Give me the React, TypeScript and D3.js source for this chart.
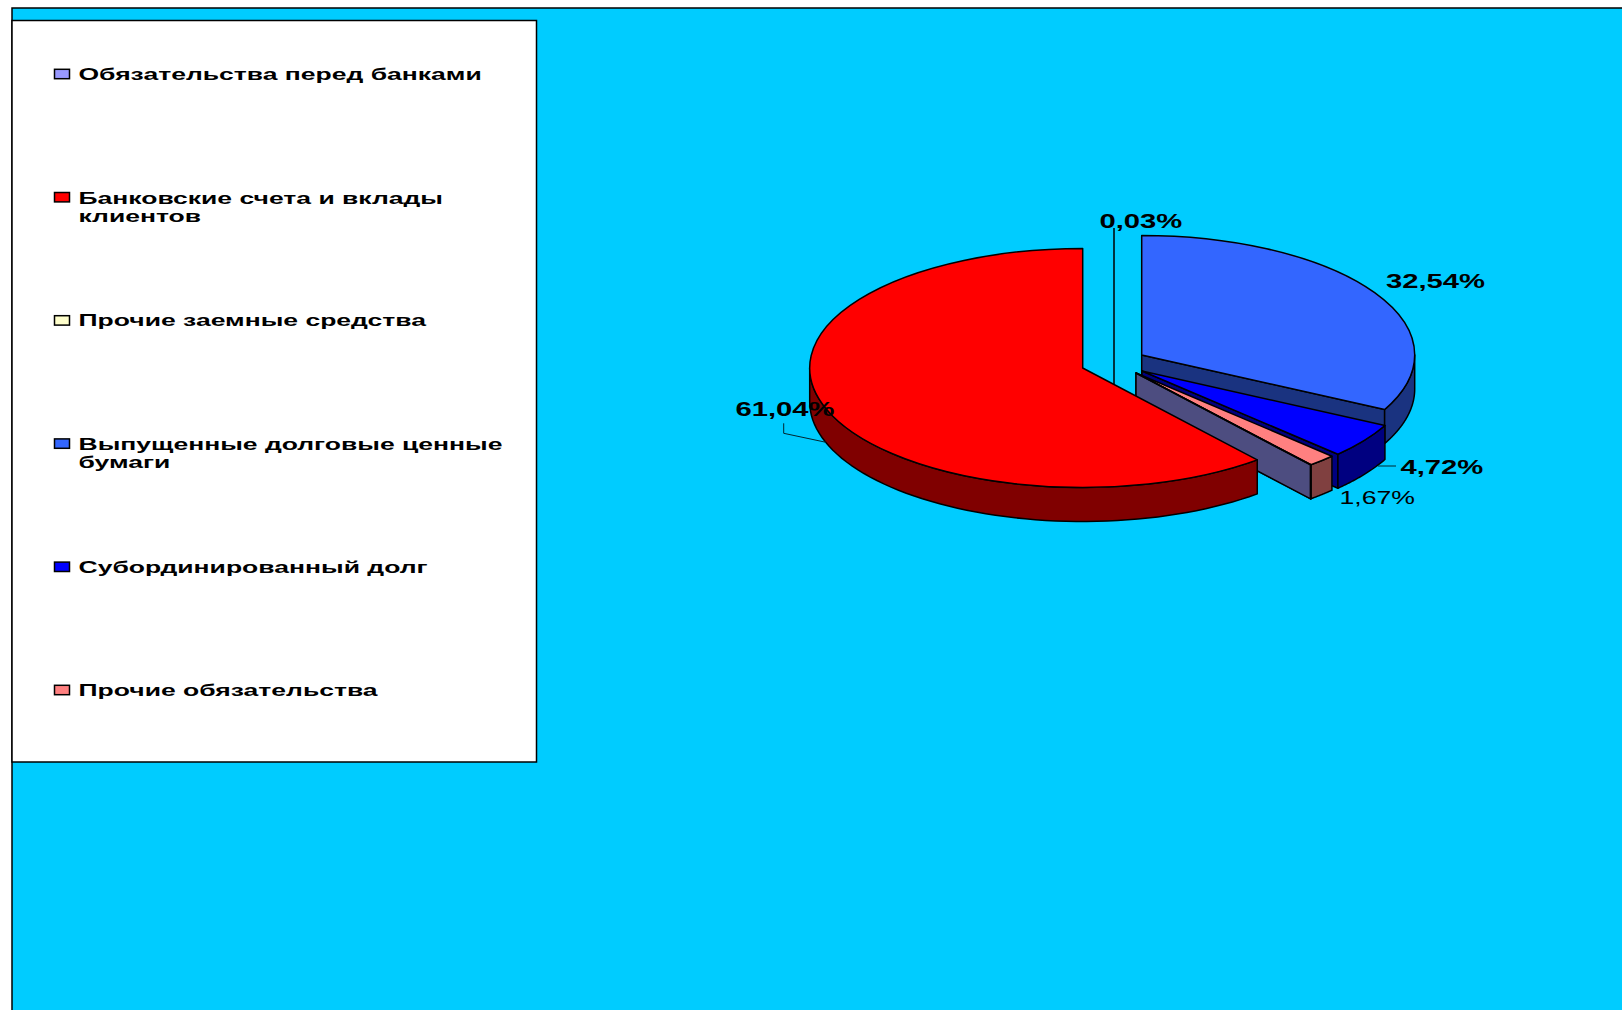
import React, { useEffect } from 'react';
import * as d3 from 'd3';

const categories = [
  'Обязательства перед банками',
  'Банковские счета и вклады клиентов',
  'Прочие заемные средства',
  'Выпущенные долговые ценные бумаги',
  'Субординированный долг',
  'Прочие обязательства',
];
const values = [0.03, 61.04, 0, 32.54, 4.72, 1.67];
const valueLabels = ['0,03%', '61,04%', '', '32,54%', '4,72%', '1,67%'];
const colors = ['#9999ff', '#ff0000', '#ffffcc', '#3366ff', '#0000ff', '#ff8080'];

// legend text wraps by hand, same as the original
const legendLines = [
  ['Обязательства перед банками'],
  ['Банковские счета и вклады', 'клиентов'],
  ['Прочие заемные средства'],
  ['Выпущенные долговые ценные', 'бумаги'],
  ['Субординированный долг'],
  ['Прочие обязательства'],
];

// layout
const width = 1622;
const height = 1010;
const rx = 273;
const ry = 119.5;
const depth = 34;
const legendStretch = 1.56;
const font = '"Liberation Sans", Arial, sans-serif';

// exploded slices each have their own centre
const centers: [number, number][] = [
  [1136, 373],
  [1082.7, 368],
  [1136, 373],
  [1141.7, 355],
  [1142, 371],
  [1136, 373],
];
const labelPos: { x: number; y: number; bold: boolean; sx: number; size: number }[] = [
  { x: 1099.5, y: 228, bold: true, sx: 1.46, size: 20 },
  { x: 735.5, y: 415.5, bold: true, sx: 1.46, size: 20 },
  { x: 0, y: 0, bold: true, sx: 1.46, size: 20 },
  { x: 1386, y: 288, bold: true, sx: 1.46, size: 20 },
  { x: 1400.5, y: 473.5, bold: true, sx: 1.46, size: 20 },
  { x: 1339.5, y: 504, bold: false, sx: 1.44, size: 18.5 },
];

const shade = (c: string) => {
  const r = d3.rgb(c);
  return d3.rgb(r.r / 2, r.g / 2, r.b / 2).formatHex();
};

const ptX = (a: number) => rx * Math.sin(a);
const ptY = (a: number) => -ry * Math.cos(a);

const App: React.FC = () => {
  useEffect(() => {
    document.body.style.margin = '0';
    document.body.style.background = '#fff';
  }, []);

  const total = d3.sum(values);
  const before = values[0] + values[1] + values[2];
  const first = 2 * Math.PI * (1 - before / total);

  const pie = d3.pie<number>().sort(null).startAngle(first).endAngle(first + 2 * Math.PI);
  const arcs = pie(values).map((d, i) => {
    const wrap = d.startAngle >= 2 * Math.PI - 1e-9;
    const a0 = wrap ? d.startAngle - 2 * Math.PI : d.startAngle;
    const a1 = wrap ? d.endAngle - 2 * Math.PI : d.endAngle;
    return { i, a0, a1, value: d.value };
  });

  const arcGen = d3.arc<any>().innerRadius(0).outerRadius(rx);
  const legendY = d3.scaleLinear().domain([0, 5]).range([74, 690]);
  const line = d3.line<[number, number]>();

  const outerWall = (a0: number, a1: number) => {
    const lo = Math.max(a0, Math.PI / 2);
    const hi = Math.min(a1, (3 * Math.PI) / 2);
    if (lo >= hi) return null;
    const angles = d3.range(0, 61).map(k => lo + ((hi - lo) * k) / 60);
    const top = angles.map(a => [ptX(a), ptY(a)] as [number, number]);
    const bottom = angles.slice().reverse().map(a => [ptX(a), ptY(a) + depth] as [number, number]);
    return line([...top, ...bottom]) + 'Z';
  };
  const radialWall = (a: number) =>
    line([[0, 0], [ptX(a), ptY(a)], [ptX(a), ptY(a) + depth], [0, depth]]) + 'Z';

  const drawSlice = (i: number) => {
    const s = arcs[i];
    if (s.value <= 0) return null;
    const [cx, cy] = centers[i];
    const dark = shade(colors[i]);
    const wall = outerWall(s.a0, s.a1);
    return (
      <g key={i} transform={`translate(${cx},${cy})`} stroke="#000" strokeWidth={1.5} strokeLinejoin="round">
        {s.a1 < Math.PI && <path d={radialWall(s.a1)} fill={dark} />}
        {s.a0 > Math.PI && <path d={radialWall(s.a0)} fill={dark} />}
        {wall && <path d={wall} fill={dark} />}
        <path
          d={arcGen({ startAngle: s.a0, endAngle: s.a1 }) as string}
          transform={`scale(1,${ry / rx})`}
          fill={colors[i]}
          vectorEffect="non-scaling-stroke"
        />
      </g>
    );
  };

  return (
    <svg
      width={width}
      height={height}
      viewBox={`0 0 ${width} ${height}`}
      style={{ position: 'absolute', left: 0, top: 0, display: 'block' }}
    >
      <rect x={0} y={0} width={width} height={height} fill="#fff" />
      <rect x={12} y={8} width={width} height={height} fill="#00ccff" stroke="#000" strokeWidth={1.5} />

      {/* legend */}
      <rect x={12} y={20.5} width={524.5} height={741.5} fill="#fff" stroke="#000" strokeWidth={1.5} />
      {categories.map((name, i) => (
        <g key={name}>
          <rect
            x={54.5}
            y={legendY(i) - 4.7}
            width={15}
            height={9.4}
            fill={colors[i]}
            stroke="#000"
            strokeWidth={1.5}
          />
          {legendLines[i].map((t, k) => (
            <text
              key={k}
              transform={`translate(78.5,${legendY(i) + 6 + (legendLines[i].length > 1 && k === 0 && i === 1 ? 0.6 : 0) + k * 18.5}) scale(${legendStretch},1)`}
              fontFamily={font}
              fontWeight="bold"
              fontSize={17}
              fill="#000"
            >
              {t}
            </text>
          ))}
        </g>
      ))}

      {/* back to front */}
      {[3, 4, 5, 0].map(drawSlice)}
      <line x1={1114} y1={228} x2={1114} y2={386} stroke="#000" strokeWidth={1.5} />
      {drawSlice(1)}

      {/* leaders */}
      <polyline points="783.7,423.3 783.7,433.3 826,442.3" fill="none" stroke="#00262f" strokeWidth={1} />
      <line x1={1378} y1={466} x2={1396} y2={466} stroke="#00262f" strokeWidth={1} />

      {valueLabels.map((t, i) =>
        t ? (
          <text
            key={i}
            transform={`translate(${labelPos[i].x},${labelPos[i].y}) scale(${labelPos[i].sx},1)`}
            fontFamily={font}
            fontWeight={labelPos[i].bold ? 'bold' : 'normal'}
            fontSize={labelPos[i].size}
            fill="#000"
          >
            {t}
          </text>
        ) : null
      )}
    </svg>
  );
};

export default App;
